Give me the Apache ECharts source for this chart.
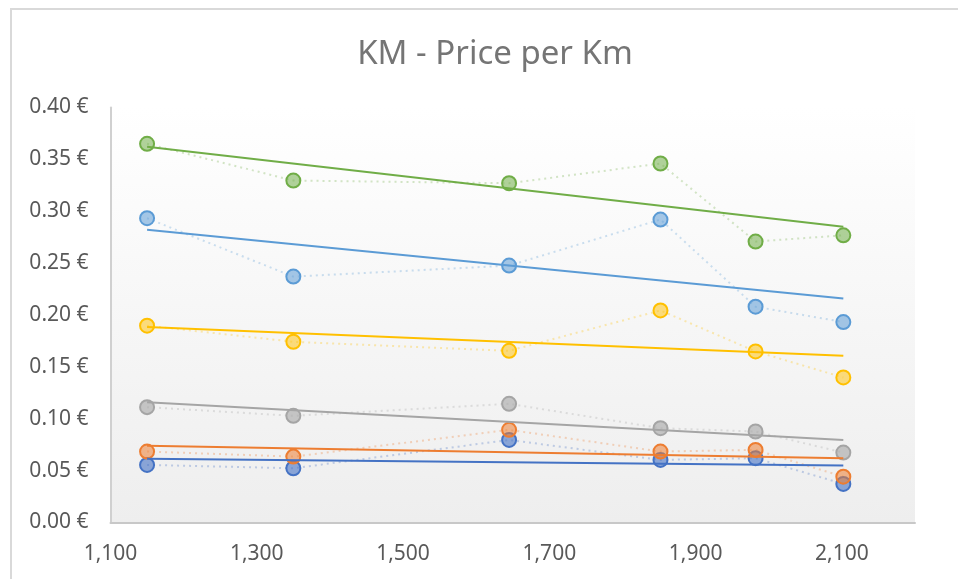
<!DOCTYPE html>
<html>
<head>
<meta charset="utf-8">
<title>KM - Price per Km</title>
<script src="https://cdn.jsdelivr.net/npm/echarts@6/dist/echarts.min.js"></script>
<style>
  html, body { margin: 0; padding: 0; background: #ffffff; }
  #chart { width: 958px; height: 579px; }
</style>
</head>
<body>
<div id="chart"></div>
<script>
// Distance (km) for each measurement
const kmValues = [1150, 1350, 1645, 1852, 1982, 2102];

// Price per km (EUR) for each group, same order as kmValues
const darkBlueValues = [0.0555, 0.0523, 0.0796, 0.0603, 0.0620, 0.0372];
const orangeValues   = [0.0684, 0.0635, 0.0893, 0.0684, 0.0700, 0.0442];
const grayValues     = [0.1112, 0.1028, 0.1144, 0.0909, 0.0877, 0.0674];
const yellowValues   = [0.1897, 0.1742, 0.1655, 0.2044, 0.1649, 0.1398];
const blueValues     = [0.2933, 0.2370, 0.2476, 0.2920, 0.2080, 0.1932];
const greenValues    = [0.3650, 0.3296, 0.3270, 0.3460, 0.2708, 0.2768];

// Axis ticks
const xTicks = { min: 1100, max: 2200, step: 200 };
const yTicks = { min: 0, max: 0.40, step: 0.05 };

const groups = [
  { name: 'Group 1', values: darkBlueValues, color: '#4472C4', fill: 'rgba(68,114,196,0.6)' },
  { name: 'Group 2', values: orangeValues,   color: '#ED7D31', fill: 'rgba(237,125,49,0.55)' },
  { name: 'Group 3', values: grayValues,     color: '#A5A5A5', fill: 'rgba(165,165,165,0.6)' },
  { name: 'Group 4', values: yellowValues,   color: '#FFC000', fill: 'rgba(255,192,0,0.5)' },
  { name: 'Group 5', values: blueValues,     color: '#5B9BD5', fill: 'rgba(91,155,213,0.55)' },
  { name: 'Group 6', values: greenValues,    color: '#70AD47', fill: 'rgba(112,173,71,0.55)' }
];

// Least-squares linear trend over the measured range
function linearTrend(xs, ys) {
  const n = xs.length;
  const mx = xs.reduce((a, b) => a + b, 0) / n;
  const my = ys.reduce((a, b) => a + b, 0) / n;
  let sxy = 0, sxx = 0;
  for (let i = 0; i < n; i++) {
    sxy += (xs[i] - mx) * (ys[i] - my);
    sxx += (xs[i] - mx) * (xs[i] - mx);
  }
  const slope = sxy / sxx;
  const x0 = Math.min(...xs), x1 = Math.max(...xs);
  return [[x0, my + slope * (x0 - mx)], [x1, my + slope * (x1 - mx)]];
}

const FONT = '"Noto Sans", "Open Sans", sans-serif';

const series = [];
groups.forEach(g => {
  series.push({
    name: g.name,
    type: 'line',
    data: kmValues.map((x, i) => [x, g.values[i]]),
    symbol: 'circle',
    symbolSize: 14,
    itemStyle: { color: g.fill, borderColor: g.color, borderWidth: 2 },
    lineStyle: { color: g.color, width: 2, type: [2, 4], opacity: 0.3 },
    z: 2
  });
});
groups.forEach(g => {
  series.push({
    name: g.name + ' trend',
    type: 'line',
    data: linearTrend(kmValues, g.values),
    symbol: 'none',
    lineStyle: { color: g.color, width: 2 },
    z: 3,
    silent: true
  });
});

const chart = echarts.init(document.getElementById('chart'), null, { renderer: 'canvas' });
chart.setOption({
  backgroundColor: '#ffffff',
  animation: false,
  title: {
    text: 'KM - Price per Km',
    left: 490,
    textAlign: 'center',
    top: 33,
    textStyle: { fontFamily: FONT, fontSize: 33, fontWeight: 'normal', color: '#757575' }
  },
  graphic: [{
    type: 'rect',
    shape: { x: 11, y: 9, width: 1200, height: 1200 },
    style: { fill: 'none', stroke: '#d9d9d9', lineWidth: 2 },
    silent: true,
    z: 0
  }],
  grid: {
    left: 110.5,
    right: 43,
    top: 107.5,
    bottom: 56.5,
    show: true,
    borderWidth: 0,
    backgroundColor: new echarts.graphic.LinearGradient(0, 0, 0, 1, [
      { offset: 0, color: '#ffffff' },
      { offset: 1, color: '#eeeeee' }
    ])
  },
  xAxis: {
    type: 'value',
    min: xTicks.min,
    max: xTicks.max,
    interval: xTicks.step,
    splitLine: { show: false },
    axisTick: { show: false },
    axisLine: { show: true, lineStyle: { color: '#c8c8c8', width: 2 } },
    axisLabel: {
      showMaxLabel: false,
      margin: 21,
      fontFamily: FONT,
      fontSize: 21,
      color: '#595959',
      formatter: v => v.toLocaleString('en-US')
    }
  },
  yAxis: {
    type: 'value',
    min: yTicks.min,
    max: yTicks.max,
    interval: yTicks.step,
    splitLine: { show: false },
    axisTick: { show: false },
    axisLine: { show: true, lineStyle: { color: '#d0d0d0', width: 2 } },
    axisLabel: {
      margin: 22,
      padding: [5, 0, 0, 0],
      fontFamily: FONT,
      fontSize: 21,
      color: '#595959',
      formatter: v => v.toFixed(2) + ' €'
    }
  },
  series: series
});
</script>
</body>
</html>
